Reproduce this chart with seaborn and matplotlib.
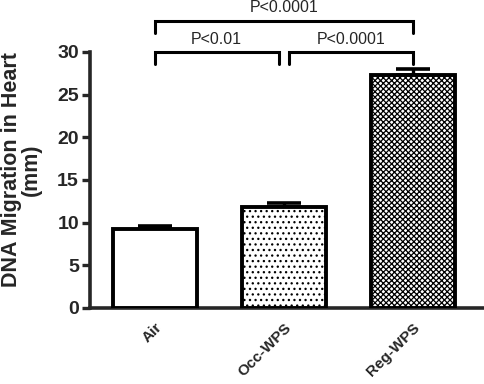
import matplotlib
matplotlib.use("Agg")
import matplotlib.pyplot as plt
import seaborn as sns
import numpy as np
import pandas as pd

categories = ["Air", "Occ-WPS", "Reg-WPS"]
means = [9.2, 11.8, 27.3]
sems = [0.45, 0.5, 0.7]
hatches = ["", "...", "xxxxxx"]
yticks = [0, 5, 10, 15, 20, 25, 30]

sns.set_style("ticks")
plt.rcParams["font.family"] = ["Liberation Sans", "DejaVu Sans"]
plt.rcParams["hatch.linewidth"] = 0.9

df = pd.DataFrame({"group": categories, "value": means})

fig = plt.figure(figsize=(4.84, 3.84), dpi=100)
ax = fig.add_axes([90 / 484, (384 - 308) / 384, (484 - 90) / 484, 256 / 384])

sns.barplot(data=df, x="group", y="value", order=categories, color="white",
            edgecolor="black", linewidth=2.8, width=0.65, errorbar=None, ax=ax,
            zorder=3)
for patch, h in zip(ax.patches, hatches):
    patch.set_hatch(h)

x = np.arange(len(categories))
ax.errorbar(x, means, yerr=[np.zeros(len(sems)), sems], fmt="none",
            ecolor="black", elinewidth=2.4, capsize=12, capthick=2.6, zorder=2)

ax.set_xlim(-0.5, 2.55)
ax.set_ylim(0, 30)
ax.set_yticks(yticks)
ax.set_yticklabels([str(t) for t in yticks], fontsize=14, fontweight="bold")
ax.set_xticks(x)
ax.set_xticklabels(categories, rotation=45, ha="right", rotation_mode="anchor",
                   fontsize=11, fontweight="bold")
ax.tick_params(axis="x", length=0, pad=9)
ax.tick_params(axis="y", length=6, width=2.4, pad=2)
for s in ["left", "bottom"]:
    ax.spines[s].set_linewidth(2.6)
sns.despine(ax=ax, top=True, right=True)
ax.set_xlabel("")
ax.set_ylabel("DNA Migration in Heart\n(mm)", fontsize=15.5, fontweight="bold",
              linespacing=0.95)
ax.yaxis.set_label_coords(-0.122, 0.54)


def bracket(x1, x2, ytop, ybot, label, ytext):
    ax.plot([x1, x1, x2, x2], [ybot, ytop, ytop, ybot], color="black", lw=2.2,
            clip_on=False, solid_joinstyle="miter")
    ax.text((x1 + x2) / 2, ytext, label, ha="center", va="center", fontsize=11.5)


bracket(0.0, 0.96, 30.0, 28.6, "P<0.01", 31.5)
bracket(1.04, 2.0, 30.0, 28.6, "P<0.0001", 31.5)
bracket(0.0, 2.0, 33.6, 32.2, "P<0.0001", 35.2)

fig.savefig("out.png", dpi=100)
